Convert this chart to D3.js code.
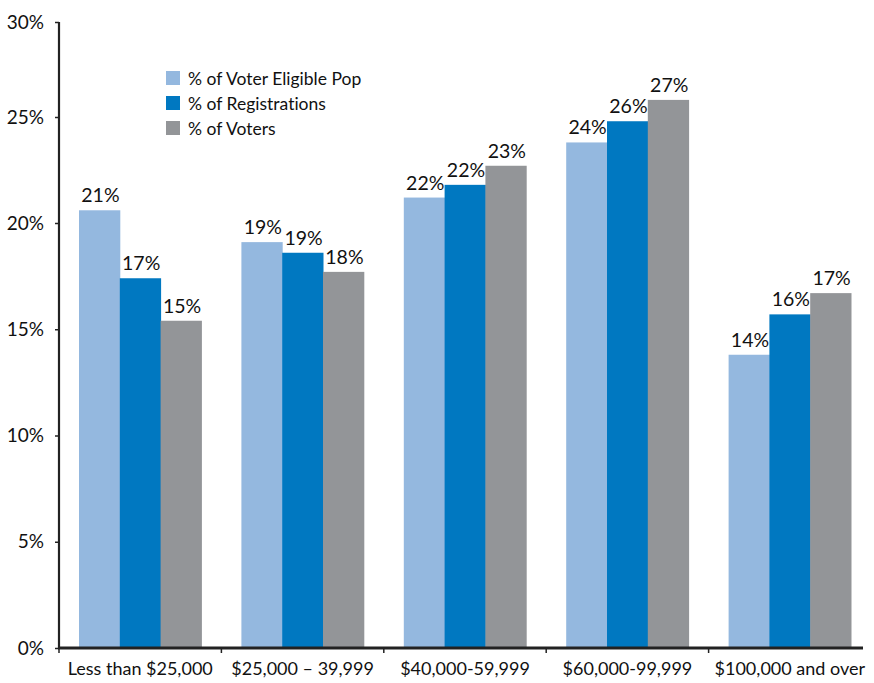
<!DOCTYPE html>
<html>
<head>
<meta charset="utf-8">
<script src="https://cdn.jsdelivr.net/npm/d3@7"></script>
<style>
  body { margin: 0; background: #fff; }
  svg text { font-family: Lato, "Open Sans", sans-serif; fill: #111; font-variant-ligatures: none; }
</style>
</head>
<body>
<div id="chart"></div>
<script>
const categories = ["Less than $25,000", "$25,000 \u2013 39,999", "$40,000-59,999", "$60,000-99,999", "$100,000 and over"];
const seriesNames = ["% of Voter Eligible Pop", "% of Registrations", "% of Voters"];
const eligiblePop = [20.6, 19.1, 21.2, 23.8, 13.8];
const registrations = [17.4, 18.6, 21.8, 24.8, 15.7];
const voters = [15.4, 17.7, 22.7, 25.9, 16.7];
const eligibleLabels = ["21%", "19%", "22%", "24%", "14%"];
const registrationLabels = ["17%", "19%", "22%", "26%", "16%"];
const voterLabels = ["15%", "18%", "23%", "27%", "17%"];
const yTicks = [0, 5, 10, 15, 20, 25, 30];

const colors = ["#94b8df", "#0078c1", "#939598"];

const width = 874;
const height = 683;

const svg = d3.select("#chart").append("svg").attr("width", width).attr("height", height);

const seriesValues = [eligiblePop, registrations, voters];
const seriesLabels = [eligibleLabels, registrationLabels, voterLabels];

const rows = categories.map((c, i) => ({
    category: c,
    bars: seriesNames.map((s, j) => ({ series: s, value: seriesValues[j][i], label: seriesLabels[j][i], color: colors[j] }))
}));

const x0 = d3.scaleBand().domain(categories).range([59, 871]);
const x1 = d3.scaleBand().domain(seriesNames).range([20, x0.bandwidth() - 20]);

// the picture's y axis is a bit squeezed at the top
const y = d3.scaleLinear().domain([0, 20, 25, 30]).range([648, 223, 117, 22]);

// bars
const groups = svg.selectAll(".group")
    .data(rows)
    .enter()
    .append("g")
    .attr("transform", d => `translate(${x0(d.category)},0)`);

groups.selectAll("rect")
    .data(d => d.bars)
    .enter()
    .append("rect")
    .attr("x", d => x1(d.series))
    .attr("y", d => y(d.value))
    .attr("width", x1.bandwidth() + 0.5)
    .attr("height", d => y(0) - y(d.value))
    .attr("fill", d => d.color);

groups.selectAll("text")
    .data(d => d.bars)
    .enter()
    .append("text")
    .attr("x", d => x1(d.series) + x1.bandwidth() / 2 + 1)
    .attr("y", d => y(d.value) - 8)
    .style("text-anchor", "middle")
    .style("font-size", "19.5px")
    .text(d => d.label);

// y axis
const yAxis = d3.axisLeft(y).tickValues(yTicks).tickSize(4).tickPadding(11).tickFormat(d => d + "%");
const yg = svg.append("g").attr("transform", "translate(59,0)").call(yAxis);
yg.select(".domain").remove();
yg.selectAll(".tick line").attr("stroke", "#222").attr("stroke-width", 1.5);
yg.selectAll(".tick text").style("font-size", "19px").style("font-family", "Lato, sans-serif").attr("fill", "#111");
svg.append("line")
    .attr("x1", 59).attr("x2", 59)
    .attr("y1", y(30)).attr("y2", y(0))
    .attr("stroke", "#222").attr("stroke-width", 2.2);

// x axis
const xAxis = d3.axisBottom(x0).tickSize(0).tickPadding(14);
const xg = svg.append("g").attr("transform", `translate(0,${y(0)})`).call(xAxis);
xg.select(".domain").remove();
xg.selectAll(".tick text").style("font-size", "18px").style("font-family", "Lato, sans-serif").attr("fill", "#111");
svg.append("line")
    .attr("x1", 58).attr("x2", 863)
    .attr("y1", y(0)).attr("y2", y(0))
    .attr("stroke", "#222").attr("stroke-width", 2.8);

// boundary ticks between the groups
svg.selectAll(".bound")
    .data(categories)
    .enter()
    .append("line")
    .attr("x1", d => x0(d)).attr("x2", d => x0(d))
    .attr("y1", y(0)).attr("y2", y(0) + 5)
    .attr("stroke", "#222").attr("stroke-width", 1.5);

// legend
const legend = svg.append("g").attr("transform", "translate(166,71)");

legend.selectAll("rect")
    .data(seriesNames)
    .enter()
    .append("rect")
    .attr("y", (d, i) => i * 25)
    .attr("width", 14)
    .attr("height", 14)
    .attr("fill", (d, i) => colors[i]);

legend.selectAll("text")
    .data(seriesNames)
    .enter()
    .append("text")
    .attr("x", 22)
    .attr("y", (d, i) => i * 25 + 7)
    .attr("dominant-baseline", "central")
    .style("font-size", "17.5px")
    .text(d => d);
</script>
</body>
</html>
